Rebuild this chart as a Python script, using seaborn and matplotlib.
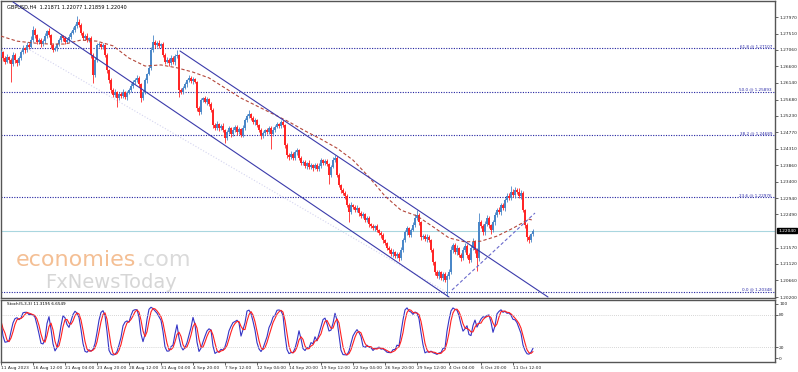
import numpy as np
import pandas as pd
import seaborn as sns
import matplotlib.pyplot as plt

# ---- GBPUSD H4, values ----
first_open = 1.2692
closes = [
    1.2700, 1.2683, 1.2672, 1.2686, 1.2678, 1.2667, 1.2692, 1.2678, 1.2669, 1.2683, 1.2700, 1.2711, 1.2706, 1.2719, 1.2714, 1.2733, 1.2761, 1.2747, 1.2728, 1.2733,
    1.2722, 1.2730, 1.2744, 1.2758, 1.2747, 1.2719, 1.2706, 1.2711, 1.2722, 1.2733, 1.2744, 1.2739, 1.2728, 1.2733, 1.2742, 1.2753, 1.2761, 1.2772, 1.2783, 1.2775,
    1.2753, 1.2739, 1.2744, 1.2733, 1.2739, 1.2692, 1.2636, 1.2678, 1.2719, 1.2722, 1.2714, 1.2719, 1.2692, 1.2650, 1.2622, 1.2594, 1.2581, 1.2589, 1.2572, 1.2583,
    1.2578, 1.2589, 1.2575, 1.2586, 1.2594, 1.2606, 1.2617, 1.2622, 1.2628, 1.2611, 1.2572, 1.2589, 1.2622, 1.2639, 1.2656, 1.2706, 1.2728, 1.2719, 1.2725, 1.2717,
    1.2722, 1.2692, 1.2672, 1.2678, 1.2669, 1.2683, 1.2672, 1.2689, 1.2692, 1.2594, 1.2589, 1.2600, 1.2611, 1.2622, 1.2628, 1.2619, 1.2625, 1.2617, 1.2544, 1.2533,
    1.2567, 1.2572, 1.2561, 1.2570, 1.2556, 1.2539, 1.2497, 1.2489, 1.2500, 1.2489, 1.2495, 1.2483, 1.2461, 1.2478, 1.2489, 1.2472, 1.2483, 1.2492, 1.2478, 1.2486,
    1.2470, 1.2489, 1.2511, 1.2522, 1.2528, 1.2517, 1.2506, 1.2511, 1.2497, 1.2483, 1.2467, 1.2475, 1.2483, 1.2478, 1.2489, 1.2472, 1.2483, 1.2492, 1.2500, 1.2495,
    1.2506, 1.2497, 1.2442, 1.2414, 1.2409, 1.2417, 1.2406, 1.2422, 1.2428, 1.2406, 1.2392, 1.2395, 1.2384, 1.2392, 1.2381, 1.2386, 1.2378, 1.2386, 1.2375, 1.2384,
    1.2400, 1.2392, 1.2397, 1.2389, 1.2359, 1.2381, 1.2400, 1.2406, 1.2359, 1.2331, 1.2317, 1.2309, 1.2300, 1.2275, 1.2256, 1.2275, 1.2270, 1.2261, 1.2267, 1.2253,
    1.2245, 1.2250, 1.2234, 1.2239, 1.2223, 1.2217, 1.2211, 1.2217, 1.2206, 1.2198, 1.2192, 1.2178, 1.2170, 1.2156, 1.2150, 1.2139, 1.2145, 1.2134, 1.2139, 1.2128,
    1.2150, 1.2178, 1.2200, 1.2211, 1.2192, 1.2206, 1.2220, 1.2239, 1.2248, 1.2228, 1.2187, 1.2189, 1.2181, 1.2187, 1.2178, 1.2150, 1.2117, 1.2089, 1.2078, 1.2089,
    1.2073, 1.2084, 1.2067, 1.2078, 1.2089, 1.2150, 1.2164, 1.2145, 1.2156, 1.2137, 1.2128, 1.2150, 1.2162, 1.2137, 1.2123, 1.2156, 1.2173, 1.2150, 1.2128, 1.2228,
    1.2217, 1.2200, 1.2223, 1.2239, 1.2220, 1.2206, 1.2228, 1.2248, 1.2261, 1.2256, 1.2275, 1.2267, 1.2289, 1.2300, 1.2295, 1.2311, 1.2303, 1.2317, 1.2311, 1.2300,
    1.2309, 1.2261, 1.2220, 1.2187, 1.2178, 1.2195, 1.2204,
]
# wick lengths above / below the body, in pips
upper_wick = [
    6, 4, 5, 8, 3, 5, 9, 4, 3, 6, 5, 7, 4, 8, 5, 10, 12, 6, 4, 7,
    5, 6, 8, 4, 9, 3, 5, 6, 4, 7, 5, 4, 6, 5, 8, 6, 7, 5, 17, 9,
    4, 6, 5, 8, 3, 4, 6, 9, 7, 5, 4, 6, 3, 5, 4, 6, 5, 7, 4, 6,
    5, 8, 4, 6, 5, 7, 4, 6, 8, 5, 3, 6, 5, 4, 7, 9, 19, 6, 5, 8,
    4, 6, 5, 7, 4, 8, 5, 6, 13, 3, 5, 6, 7, 4, 8, 5, 6, 4, 3, 5,
    6, 4, 7, 5, 3, 4, 5, 6, 8, 4, 5, 7, 3, 6, 5, 4, 8, 6, 5, 7,
    4, 9, 6, 5, 11, 4, 6, 5, 3, 4, 5, 6, 4, 7, 5, 6, 8, 5, 7, 4,
    6, 5, 3, 4, 6, 8, 5, 7, 6, 3, 4, 5, 6, 4, 7, 5, 4, 6, 5, 8,
    6, 4, 7, 5, 3, 6, 8, 8, 4, 5, 3, 6, 4, 5, 6, 8, 4, 5, 7, 4,
    5, 6, 4, 7, 5, 3, 6, 4, 5, 4, 6, 5, 3, 4, 6, 5, 7, 4, 5, 6,
    8, 6, 7, 5, 4, 6, 8, 10, 14, 5, 3, 6, 5, 7, 4, 3, 5, 4, 6, 5,
    4, 6, 5, 7, 8, 12, 6, 5, 7, 4, 6, 8, 9, 5, 4, 7, 10, 6, 5, 25,
    7, 5, 9, 8, 6, 4, 7, 9, 6, 8, 5, 7, 6, 9, 8, 17, 10, 8, 6, 12,
    9, 5, 4, 6, 5, 4, 6,
]
lower_wick = [
    5, 7, 6, 4, 9, 50, 6, 8, 7, 5, 4, 6, 8, 5, 7, 4, 5, 8, 6, 5,
    7, 5, 4, 6, 5, 8, 6, 4, 7, 5, 6, 8, 5, 4, 6, 5, 4, 7, 5, 6,
    6, 5, 7, 4, 6, 8, 22, 6, 5, 4, 7, 5, 6, 8, 9, 7, 6, 5, 25, 6,
    7, 5, 6, 8, 4, 5, 6, 7, 5, 8, 10, 6, 5, 7, 4, 5, 6, 8, 5, 6,
    7, 5, 6, 4, 8, 5, 6, 7, 5, 19, 6, 5, 4, 7, 5, 6, 8, 4, 9, 7,
    5, 6, 4, 7, 6, 5, 8, 6, 5, 7, 6, 5, 14, 6, 5, 7, 4, 6, 8, 5,
    7, 5, 6, 4, 5, 7, 6, 8, 5, 6, 9, 5, 6, 7, 5, 41, 6, 5, 4, 7,
    5, 6, 8, 7, 9, 5, 6, 7, 8, 5, 6, 7, 5, 8, 6, 5, 7, 4, 6, 5,
    6, 7, 5, 6, 26, 5, 4, 6, 7, 6, 8, 5, 7, 6, 28, 5, 7, 6, 5, 8,
    6, 5, 7, 6, 8, 5, 6, 7, 5, 6, 8, 7, 6, 5, 7, 6, 8, 5, 7, 9,
    6, 5, 4, 7, 6, 5, 4, 6, 5, 7, 8, 5, 6, 7, 5, 6, 8, 7, 6, 8,
    7, 9, 6, 43, 8, 5, 7, 6, 8, 7, 9, 6, 5, 8, 9, 6, 5, 7, 36, 8,
    6, 9, 7, 5, 8, 10, 6, 7, 5, 6, 8, 5, 7, 6, 5, 7, 6, 8, 5, 6,
    7, 6, 8, 12, 9, 6, 7,
]

# moving average (red dashed), sampled along the chart
ma_bars = [0, 8, 16, 24, 32, 40, 48, 56, 64, 72, 80, 88, 96, 104, 112, 120, 128, 136,
           144, 152, 160, 168, 176, 184, 192, 200, 208, 216, 224, 232, 240, 248, 256, 264, 266]
ma_vals = [1.2744, 1.2730, 1.2725, 1.2722, 1.2722, 1.2733, 1.2730, 1.2717, 1.2683, 1.2661,
           1.2664, 1.2656, 1.2644, 1.2628, 1.2600, 1.2572, 1.2550, 1.2528, 1.2506, 1.2481,
           1.2458, 1.2433, 1.2400, 1.2353, 1.2300, 1.2261, 1.2245, 1.2215, 1.2184, 1.2173,
           1.2175, 1.2189, 1.2211, 1.2236, 1.2233]

# fibonacci retracement
fib_names = ['61.8', '50.0', '38.2', '23.6', '0.0']
fib_levels = [1.27107, 1.25893, 1.24689, 1.22976, 1.20348]

# trend lines (bar index, price)
chan_low_bars, chan_low_px = [6, 224], [1.28387, 1.20200]
chan_up_bars, chan_up_px = [89.5, 273.5], [1.27027, 1.20200]
faint_bars, faint_px = [14.5, 223.5], [1.27055, 1.20311]
rise_bars, rise_px = [225.5, 267], [1.20395, 1.22531]

price_ticks = [1.27970, 1.27510, 1.27060, 1.26600, 1.26140, 1.25680, 1.25230, 1.24770, 1.24310,
               1.23860, 1.23400, 1.22940, 1.22490, 1.21570, 1.21120, 1.20660, 1.20200]
last_price = 1.22040
header = 'GBPUSD,H4  1.21871 1.22077 1.21859 1.22040'
stoch_title = 'Stoch(5,3,3) 11.3195 6.6549'

date_bars = [0, 16, 32, 48, 64, 80, 96, 112, 128, 144, 160, 176, 192, 208, 224, 240, 256]
date_labels = ['11 Aug 2023', '16 Aug 12:00', '21 Aug 04:00', '23 Aug 20:00', '28 Aug 12:00',
               '31 Aug 04:00', '4 Sep 20:00', '7 Sep 12:00', '12 Sep 04:00', '14 Sep 20:00',
               '19 Sep 12:00', '22 Sep 04:00', '26 Sep 20:00', '29 Sep 12:00', '4 Oct 04:00',
               '6 Oct 20:00', '11 Oct 12:00']

# ---- build OHLC + stochastic ----
df = pd.DataFrame({'close': closes})
df['open'] = [first_open] + closes[:-1]
df['high'] = df[['open', 'close']].max(axis=1) + np.array(upper_wick) * 1e-4
df['low'] = df[['open', 'close']].min(axis=1) - np.array(lower_wick) * 1e-4
df['bar'] = np.arange(len(df))

hh = df['high'].rolling(5, min_periods=1).max()
ll = df['low'].rolling(5, min_periods=1).min()
df['k'] = (df['close'] - ll).rolling(3, min_periods=1).sum() / (hh - ll).rolling(3, min_periods=1).sum() * 100
df['d'] = df['k'].rolling(3, min_periods=1).mean()

sns.set_style('white')
plt.rcParams['font.family'] = ['DejaVu Sans']

W, H = 798, 372
fig = plt.figure(figsize=(W / 100, H / 100), dpi=100)
ax = fig.add_axes([1 / W, 1 - 298 / H, 774 / W, 297 / H])
ax2 = fig.add_axes([1 / W, 1 - 362 / H, 774 / W, 62 / H], sharex=ax)

bull_col, bear_col = '#4a87c8', '#ff2626'

# fib + price lines first (behind candles)
for name, lvl in zip(fib_names, fib_levels):
    ax.axhline(lvl, color='#2323a0', lw=0.8, ls=(0, (1, 1.3)), zorder=1)
    ax.text(385.5, lvl, f'{name} @ {lvl:.5f}', ha='right', va='bottom', fontsize=3,
            color='#2a2aa8', zorder=5)
ax.axhline(last_price, color='#a9d6df', lw=0.8, zorder=1)

# candles
bull = df['close'] >= df['open']
for flag, col in [(True, bull_col), (False, bear_col)]:
    sub = df[bull == flag]
    ax.vlines(sub['bar'], sub['low'], sub['high'], color=col, lw=0.6, zorder=3)
    ax.bar(sub['bar'], (sub['close'] - sub['open']).abs().clip(lower=0.00005),
           bottom=sub[['open', 'close']].min(axis=1), width=0.9, color=col, linewidth=0, zorder=3)

sns.lineplot(x=ma_bars, y=ma_vals, ax=ax, color='#b4473b', lw=0.8, linestyle=(0, (3, 2)), zorder=4)

ax.plot(chan_low_bars, chan_low_px, color='#3b3bab', lw=0.8, zorder=4)
ax.plot(chan_up_bars, chan_up_px, color='#3b3bab', lw=0.8, zorder=4)
ax.plot(faint_bars, faint_px, color='#d4d4ef', lw=0.8, ls=':', zorder=2)
ax.plot(rise_bars, rise_px, color='#6a6acc', lw=0.8, ls=(0, (3, 2)), zorder=4)

ax.set_xlim(0, 387)
ax.set_ylim(1.20173, 1.28414)
ax.yaxis.tick_right()
ax.set_yticks(price_ticks)
ax.set_yticklabels([f'{p:.5f}' for p in price_ticks])
ax.tick_params(axis='y', labelsize=3.2, length=2, width=0.5, pad=1, right=True)
ax.tick_params(axis='x', labelbottom=False, bottom=False)
ax.text(1.004, last_price, f'{last_price:.5f}', transform=ax.get_yaxis_transform(),
        ha='left', va='center', fontsize=3.2, color='white',
        bbox=dict(boxstyle='square,pad=0.15', fc='black', ec='black'))
ax.text(3, 1.28414 - 0.0016, header, fontsize=3.6, ha='left', va='center', color='black', zorder=6)
ax.set_xlabel('')
ax.set_ylabel('')

# watermark
t1 = fig.text(16 / W, 1 - 266 / H, 'economies', fontsize=16, color='#f4bf94', ha='left', va='baseline')
ax.annotate('.com', xy=(1, 0), xycoords=t1, fontsize=16, color='#dadada', ha='left', va='bottom')
fig.text(45 / W, 1 - 288 / H, 'FxNewsToday', fontsize=14, color='#d6d6d6', ha='left', va='baseline')

# stochastic panel
sns.lineplot(x=df['bar'], y=df['k'], ax=ax2, color='#3535c6', lw=0.8)
sns.lineplot(x=df['bar'], y=df['d'], ax=ax2, color='#ff2020', lw=0.8)
for lvl in (20, 80):
    ax2.axhline(lvl, color='#c8c8c8', lw=0.6, ls=(0, (1, 1.5)))
ax2.set_ylim(-7.4, 107.4)
ax2.yaxis.tick_right()
ax2.set_yticks([0, 20, 80, 100])
ax2.tick_params(axis='y', labelsize=3.2, length=2, width=0.5, pad=1, right=True)
ax2.set_xticks(date_bars)
ax2.set_xticklabels(date_labels)
ax2.tick_params(axis='x', labelsize=3.2, length=2, width=0.5, pad=1, bottom=True)
plt.setp(ax2.get_xticklabels(), ha='left')
ax2.text(3, 100, stoch_title, fontsize=3, ha='left', va='center', color='black')
ax2.set_xlabel('')
ax2.set_ylabel('')

for a in (ax, ax2):
    for s in a.spines.values():
        s.set_color('#555555')
        s.set_linewidth(1.0)

fig.savefig('out.png', dpi=100)
